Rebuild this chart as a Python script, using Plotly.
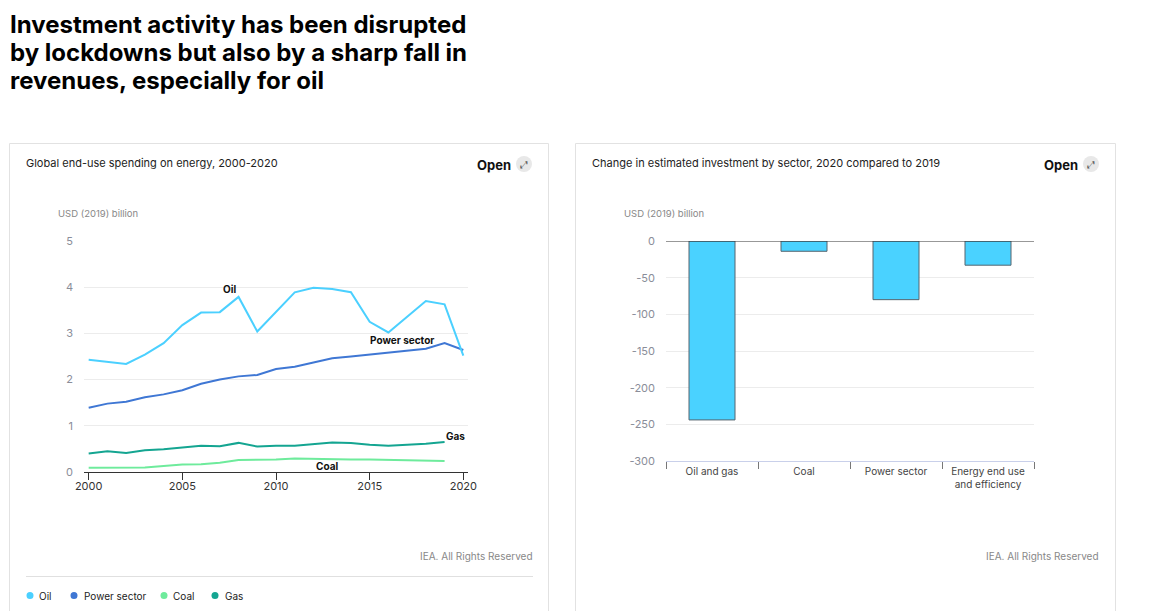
import plotly.graph_objects as go

# ---------------- data ----------------
years = list(range(2000, 2021))
oil = [2.43, 2.39, 2.34, 2.54, 2.79, 3.18, 3.45, 3.46, 3.79, 3.04, 3.46,
       3.89, 3.99, 3.96, 3.89, 3.25, 3.02, 3.35, 3.70, 3.63, 2.52]
power = [1.39, 1.48, 1.52, 1.62, 1.68, 1.77, 1.91, 2.00, 2.07, 2.10, 2.23,
         2.28, 2.37, 2.46, 2.50, 2.54, 2.58, 2.62, 2.67, 2.79, 2.64]
years_short = list(range(2000, 2020))
gas = [0.40, 0.45, 0.41, 0.47, 0.49, 0.53, 0.57, 0.56, 0.63, 0.55,
       0.57, 0.57, 0.60, 0.64, 0.63, 0.59, 0.57, 0.59, 0.61, 0.65]
coal = [0.09, 0.09, 0.09, 0.10, 0.13, 0.16, 0.17, 0.20, 0.26, 0.26,
        0.27, 0.29, 0.28, 0.27, 0.27, 0.27, 0.26, 0.26, 0.24, 0.24]
x_ticks = [2000, 2005, 2010, 2015, 2020]

sectors = ["Oil and gas", "Coal", "Power sector", "Energy end use<br>and efficiency"]
change = [-244, -14, -80, -33]
bar_ticks = [0, -50, -100, -150, -200, -250, -300]
bar_tick_labels = ["0", "-50", "-100", "-150", "-200", "-250", "-300"]

series_names = ["Oil", "Power sector", "Coal", "Gas"]
colors = {"Oil": "#4BD0FF", "Power sector": "#3F77D4", "Coal": "#6EEB9C", "Gas": "#14A591"}

# ---------------- helpers ----------------
W, H = 1157, 611
FONT = "Inter"


def px(x):
    return x / W


def py(y):
    return 1 - y / H


fig = go.Figure()

# line chart
fig.add_trace(go.Scatter(x=years_short, y=coal, mode="lines", line=dict(color=colors["Coal"], width=2),
                         xaxis="x", yaxis="y", showlegend=False))
fig.add_trace(go.Scatter(x=years_short, y=gas, mode="lines", line=dict(color=colors["Gas"], width=2),
                         xaxis="x", yaxis="y", showlegend=False))
fig.add_trace(go.Scatter(x=years, y=power, mode="lines", line=dict(color=colors["Power sector"], width=2),
                         xaxis="x", yaxis="y", showlegend=False))
fig.add_trace(go.Scatter(x=years, y=oil, mode="lines", line=dict(color=colors["Oil"], width=2),
                         xaxis="x", yaxis="y", showlegend=False))

# bar chart
fig.add_trace(go.Bar(x=sectors, y=change, width=0.5,
                     marker=dict(color="#4AD2FF", line=dict(color="#56646e", width=1)),
                     xaxis="x2", yaxis="y2", showlegend=False))

tick_gray = "#8a8d99"

fig.update_layout(
    width=W, height=H,
    margin=dict(l=0, r=0, t=0, b=0, pad=0, autoexpand=False),
    paper_bgcolor="white", plot_bgcolor="white",
    font=dict(family=FONT, color="#222"),
    hovermode=False,
    xaxis=dict(domain=[px(84), px(468)], range=[1999.75, 2020.25], tickvals=x_ticks,
               ticks="outside", ticklen=7, tickcolor="#333", showline=True, linecolor="#333",
               linewidth=1, showgrid=False, zeroline=False, automargin=False,
               ticklabelstandoff=-3,
               tickfont=dict(size=11, color="#333", family=FONT), anchor="y", fixedrange=True),
    yaxis=dict(domain=[py(472), py(241)], range=[0, 5], dtick=1, showgrid=True,
               gridcolor="#ececec", gridwidth=1, zeroline=False, showline=False, ticks="",
               tickfont=dict(size=11, color=tick_gray, family=FONT), anchor="x", automargin=False,
               ticklabelstandoff=10, fixedrange=True),
    xaxis2=dict(domain=[px(666), px(1034)], type="category", tickson="boundaries",
                ticks="outside", ticklen=7, tickcolor="#777", showline=True, linecolor="#c9d0ea",
                linewidth=1, showgrid=False, zeroline=False, automargin=False,
                ticklabelstandoff=1,
                tickfont=dict(size=10, color="#444", family=FONT), anchor="y2", fixedrange=True),
    yaxis2=dict(domain=[py(461), py(241)], range=[-300, 0], tickvals=bar_ticks,
                ticktext=bar_tick_labels, showgrid=True,
                gridcolor="#ececec", gridwidth=1, zeroline=False, showline=False, ticks="",
                tickfont=dict(size=11, color=tick_gray, family=FONT), anchor="x2", automargin=False,
                ticklabelstandoff=10, fixedrange=True),
)

shapes = []
# card frames
for x0, x1 in [(9.5, 548.5), (575.5, 1115.5)]:
    shapes.append(dict(type="rect", xref="paper", yref="paper", x0=px(x0), x1=px(x1),
                       y0=py(640), y1=py(143.5), line=dict(color="#e2e2e2", width=1),
                       fillcolor="rgba(0,0,0,0)", layer="below"))
# zero line on bar chart
shapes.append(dict(type="line", xref="x2 domain", yref="y2", x0=0, x1=1, y0=0, y1=0,
                   line=dict(color="#333", width=1)))
# separator above legend
shapes.append(dict(type="line", xref="paper", yref="paper", x0=px(26), x1=px(533),
                   y0=py(576.5), y1=py(576.5), line=dict(color="#e0e0e0", width=1)))
# open icons
for cx in [524, 1091]:
    shapes.append(dict(type="circle", xref="paper", yref="paper", x0=px(cx - 8), x1=px(cx + 8),
                       y0=py(164 + 8), y1=py(164 - 8), line=dict(width=0), fillcolor="#e8e8e8"))
# legend dots
legend_dot_x = [30, 74, 164, 215]
legend_text_x = [37, 82, 171, 223]
for name, dx in zip(series_names, legend_dot_x):
    shapes.append(dict(type="circle", xref="paper", yref="paper", x0=px(dx - 3.5), x1=px(dx + 3.5),
                       y0=py(595.5 + 3.5), y1=py(595.5 - 3.5), line=dict(width=0),
                       fillcolor=colors[name]))
fig.update_layout(shapes=shapes)

ann = []


def text(x, y, s, size, color="#222", xanchor="left", yanchor="middle", bold=False, ref="paper"):
    if bold:
        s = "<b>" + s + "</b>"
    if ref == "paper":
        ann.append(dict(x=px(x), y=py(y), xref="paper", yref="paper", text=s, showarrow=False,
                        xanchor=xanchor, yanchor=yanchor,
                        font=dict(size=size, color=color, family=FONT)))
    else:
        ann.append(dict(x=x, y=y, xref="x", yref="y", text=s, showarrow=False,
                        xanchor=xanchor, yanchor=yanchor,
                        font=dict(size=size, color=color, family=FONT)))


# main title
title_lines = ["Investment activity has been disrupted",
               "by lockdowns but also by a sharp fall in",
               "revenues, especially for oil"]
for i, line in enumerate(title_lines):
    text(8, 24 + 28 * i, line, 24, color="#000", bold=True)

# card headers
text(24, 163, "Global end-use spending on energy, 2000-2020", 11)
text(590, 163, "Change in estimated investment by sector, 2020 compared to 2019", 11)
text(513, 165, "Open", 13, color="#111", xanchor="right", bold=True)
text(1080, 165, "Open", 13, color="#111", xanchor="right", bold=True)
for cx in [524, 1091]:
    text(cx, 164, "⤢", 10, color="#555", xanchor="center")

# unit labels
text(56, 213, "USD (2019) billion", 9.5, color="#888")
text(622, 213, "USD (2019) billion", 9.5, color="#888")

# footers
text(535, 556, "IEA. All Rights Reserved", 10, color="#888", xanchor="right")
text(1101, 556, "IEA. All Rights Reserved", 10, color="#888", xanchor="right")

# series labels in line chart
text(2007.5, 3.96, "Oil", 10, color="#111", xanchor="center", bold=True, ref="xy")
text(2016.7, 2.86, "Power sector", 10, color="#111", xanchor="center", bold=True, ref="xy")
text(2019.6, 0.79, "Gas", 10, color="#111", xanchor="center", bold=True, ref="xy")
text(2012.7, 0.12, "Coal", 10, color="#111", xanchor="center", bold=True, ref="xy")

# legend texts
for name, tx in zip(series_names, legend_text_x):
    text(tx, 595.5, name, 10, color="#222")

fig.update_layout(annotations=ann)

fig.write_html("out.html", config={"displayModeBar": False},
               post_script="document.body.style.margin='0';document.body.style.overflow='hidden';")
